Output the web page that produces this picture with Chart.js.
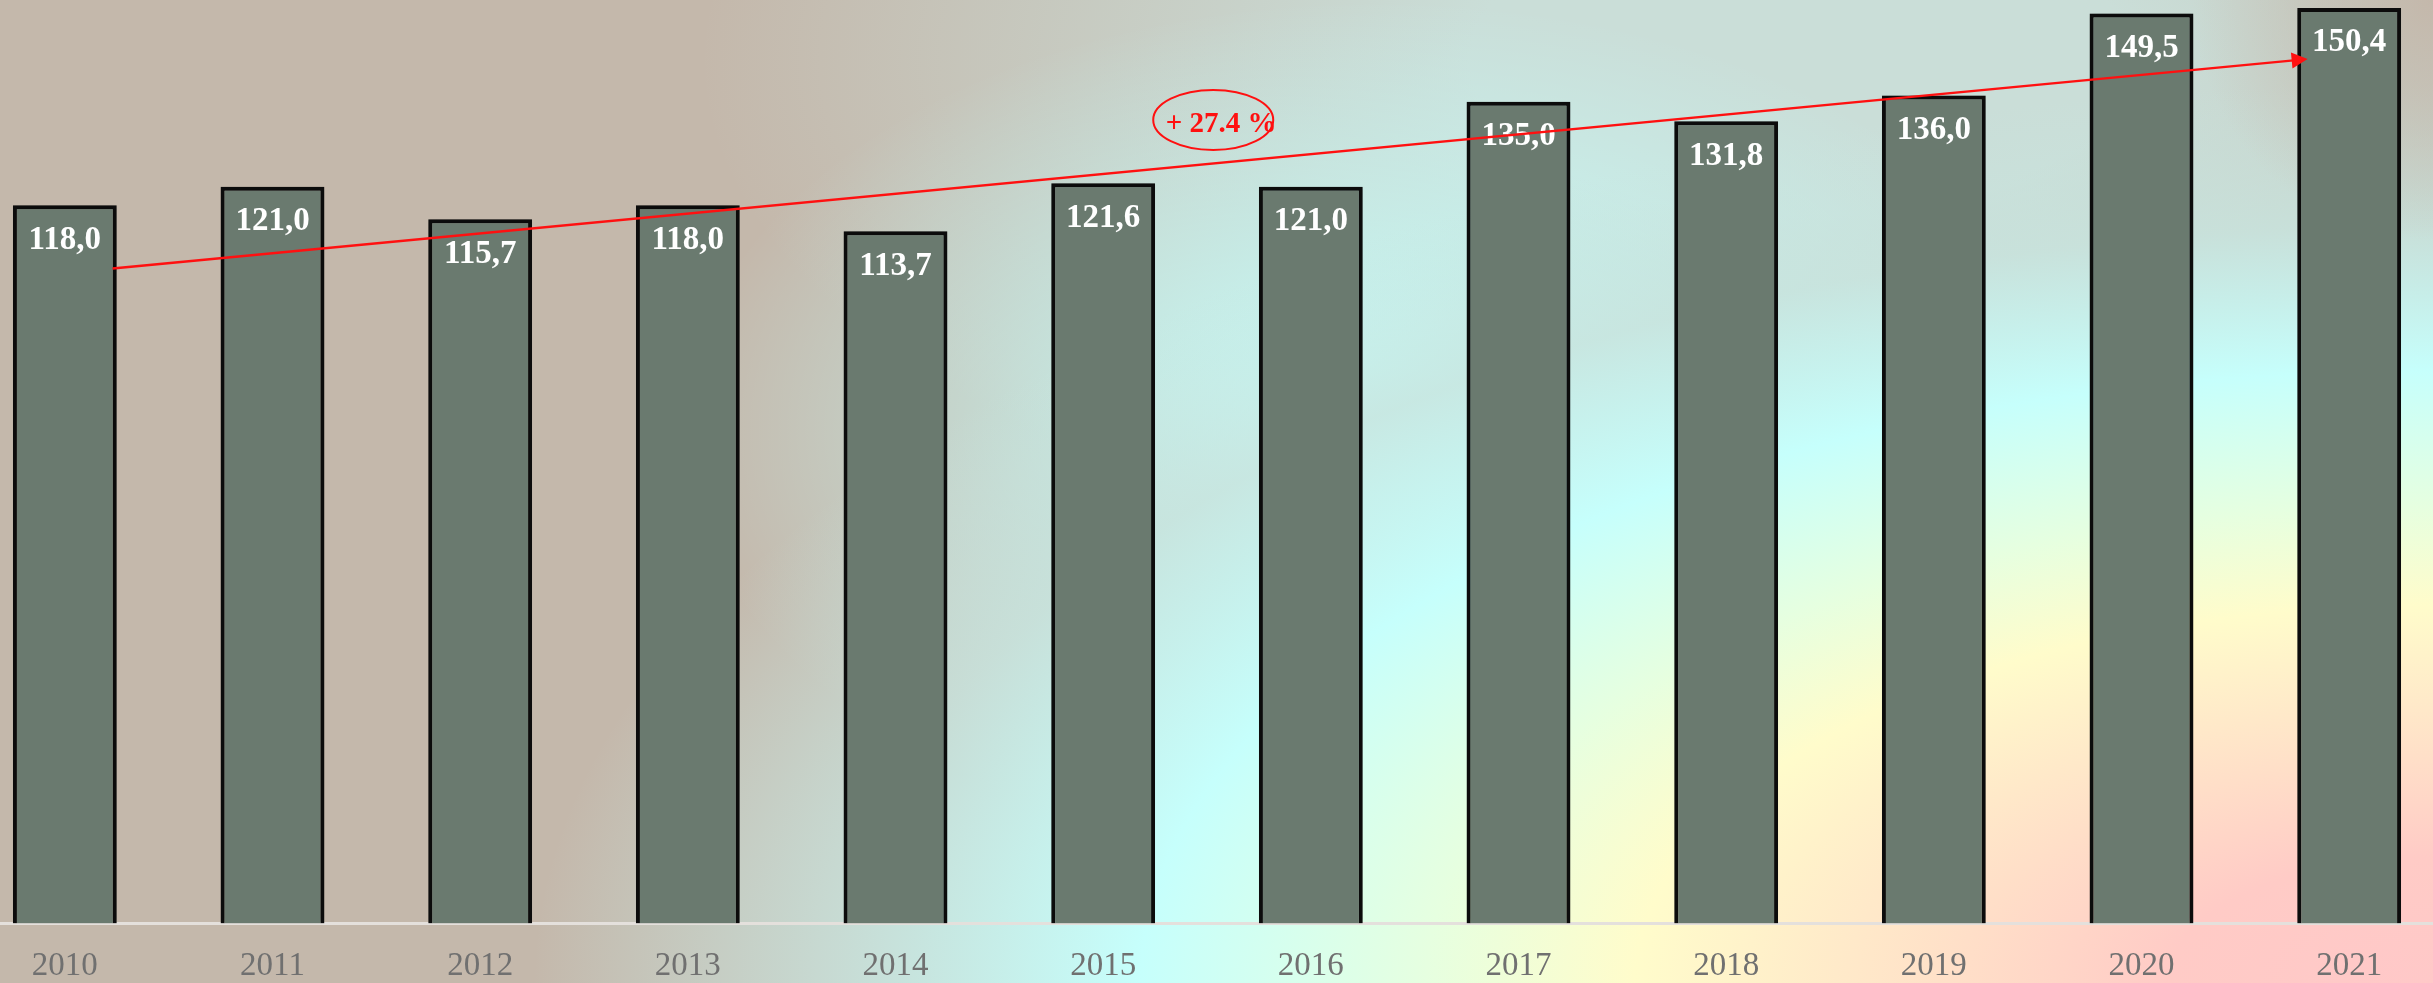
<!DOCTYPE html>
<html>
<head>
<meta charset="utf-8">
<script src="https://cdn.jsdelivr.net/npm/chart.js@4.4.0/dist/chart.umd.min.js"></script>
<style>
    html, body { margin: 0; padding: 0; width: 2433px; height: 983px; overflow: hidden; }
    #bg {
        position: absolute; left: 0; top: 0; width: 2433px; height: 983px;
        background:
            radial-gradient(circle 240px at 100% 0%, rgba(196,184,171,1) 0%, rgba(196,184,171,0) 100%),
            radial-gradient(ellipse 1900px 900px at 100% 100%,
                #ffc8c8 0%, #ffcbc6 14%, #ffdfc8 25%, #fffccb 42%, #e6ffe0 53%,
                #c6fffc 68%, rgba(200,228,222,0.8) 84%, rgba(200,228,222,0) 100%),
            radial-gradient(ellipse 700px 430px at 1380px 430px, rgba(198,255,252,0.9) 15%, rgba(198,255,252,0) 100%),
            radial-gradient(ellipse 1100px 520px at 1800px 60px, rgba(202,222,216,1) 30%, rgba(202,222,216,0) 100%),
            #c4b8ab;
    }
    #wrap { position: absolute; left: -39px; top: 0; width: 2492px; height: 1009px; }
</style>
</head>
<body>
<div id="bg"></div>
<div id="wrap"><canvas id="barChart"></canvas></div>
<script>
const years = ['2010', '2011', '2012', '2013', '2014', '2015', '2016', '2017', '2018', '2019', '2020', '2021'];
const values = [118.0, 121.0, 115.7, 118.0, 113.7, 121.6, 121.0, 135.0, 131.8, 136.0, 149.5, 150.4];

// trend arrow and its note, in category index / value units
const trendStart = [0.23, 107.6];
const trendEnd = [10.8, 142.0];
const notePoint = [5.53, 132.0];
const noteText = '+ 27.4 %';

const serif = "'Liberation Serif', 'DejaVu Serif', serif";

function formatValue(v) {
    return v.toFixed(1).replace('.', ',');
}

// draws value labels inside the tops of the bars
const barLabels = {
    id: 'barLabels',
    afterDatasetsDraw(chart) {
        const ctx = chart.ctx;
        const meta = chart.getDatasetMeta(0);
        ctx.save();
        ctx.fillStyle = '#ffffff';
        ctx.font = 'bold 33px ' + serif;
        ctx.textAlign = 'center';
        ctx.textBaseline = 'middle';
        meta.data.forEach((bar, i) => {
            ctx.fillText(formatValue(values[i]), bar.x, bar.y + 35);
        });
        ctx.restore();
    }
};

// red trend arrow with ellipse note
const trendArrow = {
    id: 'trendArrow',
    afterDraw(chart) {
        const ctx = chart.ctx;
        const x = chart.scales.x, y = chart.scales.y;
        const px = v => x.getPixelForValue(v);
        const x1 = px(trendStart[0]), y1 = y.getPixelForValue(trendStart[1]);
        const x2 = px(trendEnd[0]), y2 = y.getPixelForValue(trendEnd[1]);
        const ang = Math.atan2(y2 - y1, x2 - x1);
        ctx.save();
        ctx.strokeStyle = '#ff1010';
        ctx.fillStyle = '#ff1010';
        ctx.lineWidth = 2.5;
        ctx.beginPath();
        ctx.moveTo(x1, y1);
        ctx.lineTo(x2 - 14 * Math.cos(ang), y2 - 14 * Math.sin(ang));
        ctx.stroke();
        ctx.beginPath();
        ctx.moveTo(x2, y2);
        ctx.lineTo(x2 - 16 * Math.cos(ang) + 8 * Math.sin(ang), y2 - 16 * Math.sin(ang) - 8 * Math.cos(ang));
        ctx.lineTo(x2 - 16 * Math.cos(ang) - 8 * Math.sin(ang), y2 - 16 * Math.sin(ang) + 8 * Math.cos(ang));
        ctx.closePath();
        ctx.fill();

        const cx = px(notePoint[0]), cy = y.getPixelForValue(notePoint[1]);
        ctx.lineWidth = 2;
        ctx.beginPath();
        ctx.ellipse(cx, cy, 60, 30, 0, 0, Math.PI * 2);
        ctx.stroke();
        ctx.font = 'bold 29px ' + serif;
        ctx.textAlign = 'center';
        ctx.textBaseline = 'middle';
        ctx.fillText(noteText, cx + 8, cy + 5);
        ctx.restore();
    }
};

// soft shadow round the bars
const barShadow = {
    id: 'barShadow',
    beforeDatasetsDraw(chart) {
        chart.ctx.save();
        chart.ctx.shadowColor = 'rgba(0, 0, 0, 0.35)';
        chart.ctx.shadowBlur = 6;
    },
    afterDatasetsDraw(chart) {
        chart.ctx.restore();
    }
};

const ctx = document.getElementById('barChart').getContext('2d');
new Chart(ctx, {
    type: 'bar',
    data: {
        labels: years,
        datasets: [{
            data: values,
            backgroundColor: '#6a7a6f',
            borderColor: '#0d0d0d',
            borderWidth: 4,
            borderSkipped: 'bottom',
            categoryPercentage: 1,
            barPercentage: 0.5
        }]
    },
    options: {
        responsive: true,
        maintainAspectRatio: false,
        animation: false,
        layout: { padding: 0 },
        plugins: {
            legend: { display: false },
            tooltip: { enabled: false }
        },
        scales: {
            y: {
                display: false,
                min: 0,
                max: 151.7
            },
            x: {
                grid: { display: false, drawTicks: false },
                border: { display: true, color: '#e4e0dc', width: 3 },
                ticks: {
                    color: '#707070',
                    padding: 23,
                    font: { family: serif, size: 33 }
                }
            }
        }
    },
    plugins: [barShadow, barLabels, trendArrow]
});
</script>
</body>
</html>
